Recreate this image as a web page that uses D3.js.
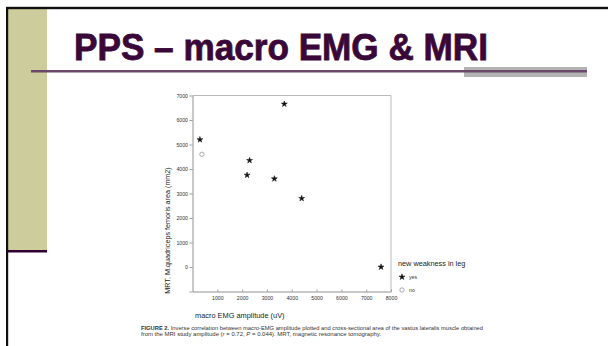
<!DOCTYPE html>
<html>
<head>
<meta charset="utf-8">
<script src="https://cdn.jsdelivr.net/npm/d3@7"></script>
<style>
  html, body { margin: 0; padding: 0; background: #fff; }
  svg { display: block; font-family: "Liberation Sans", Arial, sans-serif; }
</style>
</head>
<body>
<div id="slide"></div>
<script>
// NOTE: data
const yesEmg = [300, 2300, 2200, 3700, 3300, 4400, 7600];
const yesArea = [5200, 4350, 3750, 6650, 3600, 2800, 0];
const noEmg = [380];
const noArea = [4600];
const xTicks = [1000, 2000, 3000, 4000, 5000, 6000, 7000, 8000];
const yTicks = [-1000, 0, 1000, 2000, 3000, 4000, 5000, 6000, 7000];
const legendLabels = ['yes', 'no'];

const W = 608, H = 346;
const plot = { left: 192.5, right: 391, top: 95.5, bottom: 291.5 };

const svg = d3.select('#slide').append('svg')
  .attr('width', W)
  .attr('height', H);

svg.append('rect').attr('width', W).attr('height', H).attr('fill', '#fff');

// slide decoration
svg.append('rect').attr('x', 8).attr('y', 9).attr('width', 39).attr('height', 241).attr('fill', '#cccc9c');
svg.append('rect').attr('x', 8).attr('y', 250).attr('width', 39).attr('height', 2.5).attr('fill', '#330033');
svg.append('rect').attr('x', 6).attr('y', 7).attr('width', 2.2).attr('height', H - 7).attr('fill', '#111');
svg.append('rect').attr('x', 6).attr('y', 6.8).attr('width', W - 6).attr('height', 2.4).attr('fill', '#111');

svg.append('text')
  .attr('x', 74)
  .attr('y', 59.5)
  .attr('font-size', 36)
  .attr('font-weight', 'bold')
  .attr('fill', '#3a0838')
  .attr('stroke', '#3a0838')
  .attr('stroke-width', 0.8)
  .attr('textLength', 414)
  .attr('lengthAdjust', 'spacingAndGlyphs')
  .text('PPS – macro EMG & MRI');

svg.append('rect').attr('x', 464).attr('y', 67).attr('width', 123).attr('height', 10).attr('fill', '#b3b3b3');
svg.append('rect').attr('x', 31).attr('y', 70).attr('width', 556).attr('height', 2.5).attr('fill', '#6b4869');

// chart
const x = d3.scaleLinear().domain([0, 8000]).range([plot.left, plot.right]);
const y = d3.scaleLinear().domain([-1000, 7000]).range([plot.bottom, plot.top]);

const chart = svg.append('g').attr('font-size', 5.2).attr('fill', '#222');

// frame (top + right)
chart.append('path')
  .attr('d', `M${plot.left},${plot.top}H${plot.right}V${plot.bottom}`)
  .attr('fill', 'none')
  .attr('stroke', '#a8a8a8')
  .attr('stroke-width', 0.8);

const xAxis = chart.append('g')
  .attr('transform', `translate(0,${plot.bottom})`)
  .call(d3.axisBottom(x).tickValues(xTicks).tickSize(-2).tickPadding(5).tickSizeOuter(0)
    .tickFormat(d3.format('d')));
xAxis.select('.domain').attr('stroke', '#777').attr('stroke-width', 0.8);
xAxis.selectAll('.tick line').attr('stroke', '#777').attr('stroke-width', 0.7);
xAxis.selectAll('text').attr('font-size', 5.2).attr('fill', '#333').attr('font-family', null);

const yAxis = chart.append('g')
  .attr('transform', `translate(${plot.left},0)`)
  .call(d3.axisLeft(y).tickValues(yTicks).tickSize(3).tickPadding(1.5).tickSizeOuter(0)
    .tickFormat((d) => (d < 0 ? '' : d3.format('d')(d))));
yAxis.select('.domain').attr('stroke', '#777').attr('stroke-width', 0.8);
yAxis.selectAll('.tick line').attr('stroke', '#777').attr('stroke-width', 0.7);
yAxis.selectAll('text').attr('font-size', 5.2).attr('fill', '#333').attr('font-family', null);

// axis titles
chart.append('text')
  .attr('x', 195)
  .attr('y', 318)
  .attr('font-size', 7.4)
  .attr('fill', '#222')
  .text('macro EMG amplitude (uV)');

chart.append('text')
  .attr('transform', 'translate(169.5,230.5) rotate(-90)')
  .attr('text-anchor', 'middle')
  .attr('font-size', 7.2)
  .attr('fill', '#222')
  .text('MRT, M.quadriceps femoris area (mm2)');

// points
const star = d3.symbol().type(d3.symbolStar).size(11);
chart.selectAll('.yes')
  .data(d3.zip(yesEmg, yesArea))
  .join('path')
  .attr('class', 'yes')
  .attr('transform', (d) => `translate(${x(d[0])},${y(d[1])})`)
  .attr('d', star)
  .attr('fill', '#111')
  .attr('stroke', '#111')
  .attr('stroke-width', 0.5);

chart.selectAll('.no')
  .data(d3.zip(noEmg, noArea))
  .join('circle')
  .attr('class', 'no')
  .attr('cx', (d) => x(d[0]))
  .attr('cy', (d) => y(d[1]))
  .attr('r', 2.2)
  .attr('fill', 'none')
  .attr('stroke', '#888')
  .attr('stroke-width', 0.7);

// legend
const legend = chart.append('g').attr('transform', 'translate(398,266)');
legend.append('text').attr('font-size', 7.3).attr('fill', '#222').text('new weakness in leg');
const items = legend.selectAll('.item')
  .data(legendLabels)
  .join('g')
  .attr('class', 'item')
  .attr('transform', (d, i) => `translate(4,${11 + i * 13})`);
items.each(function (d, i) {
  const g = d3.select(this);
  if (i === 0) {
    g.append('path').attr('d', star).attr('fill', '#111').attr('stroke', '#111').attr('stroke-width', 0.5);
  } else {
    g.append('circle').attr('r', 2.2).attr('fill', 'none').attr('stroke', '#888').attr('stroke-width', 0.7);
  }
  g.append('text').attr('x', 7).attr('dy', '0.35em').attr('font-size', 5.2).attr('fill', '#333').text(d);
});

// caption
const cap1 = chart.append('text').attr('x', 141).attr('y', 329.5).attr('font-size', 5.3).attr('fill', '#333')
  .attr('textLength', 342).attr('lengthAdjust', 'spacingAndGlyphs');
cap1.append('tspan').attr('font-weight', 'bold').text('FIGURE 2.');
cap1.append('tspan').text(' Inverse correlation between macro-EMG amplitude plotted and cross-sectional area of the vastus lateralis muscle obtained');

const cap2 = chart.append('text').attr('x', 141).attr('y', 336).attr('font-size', 5.3).attr('fill', '#333')
  .attr('textLength', 240).attr('lengthAdjust', 'spacingAndGlyphs');
cap2.append('tspan').text('from the MRI study amplitude (');
cap2.append('tspan').attr('font-style', 'italic').text('r');
cap2.append('tspan').text(' = 0.72, ');
cap2.append('tspan').attr('font-style', 'italic').text('P');
cap2.append('tspan').text(' = 0.044). MRT, magnetic resonance tomography.');
</script>
</body>
</html>
